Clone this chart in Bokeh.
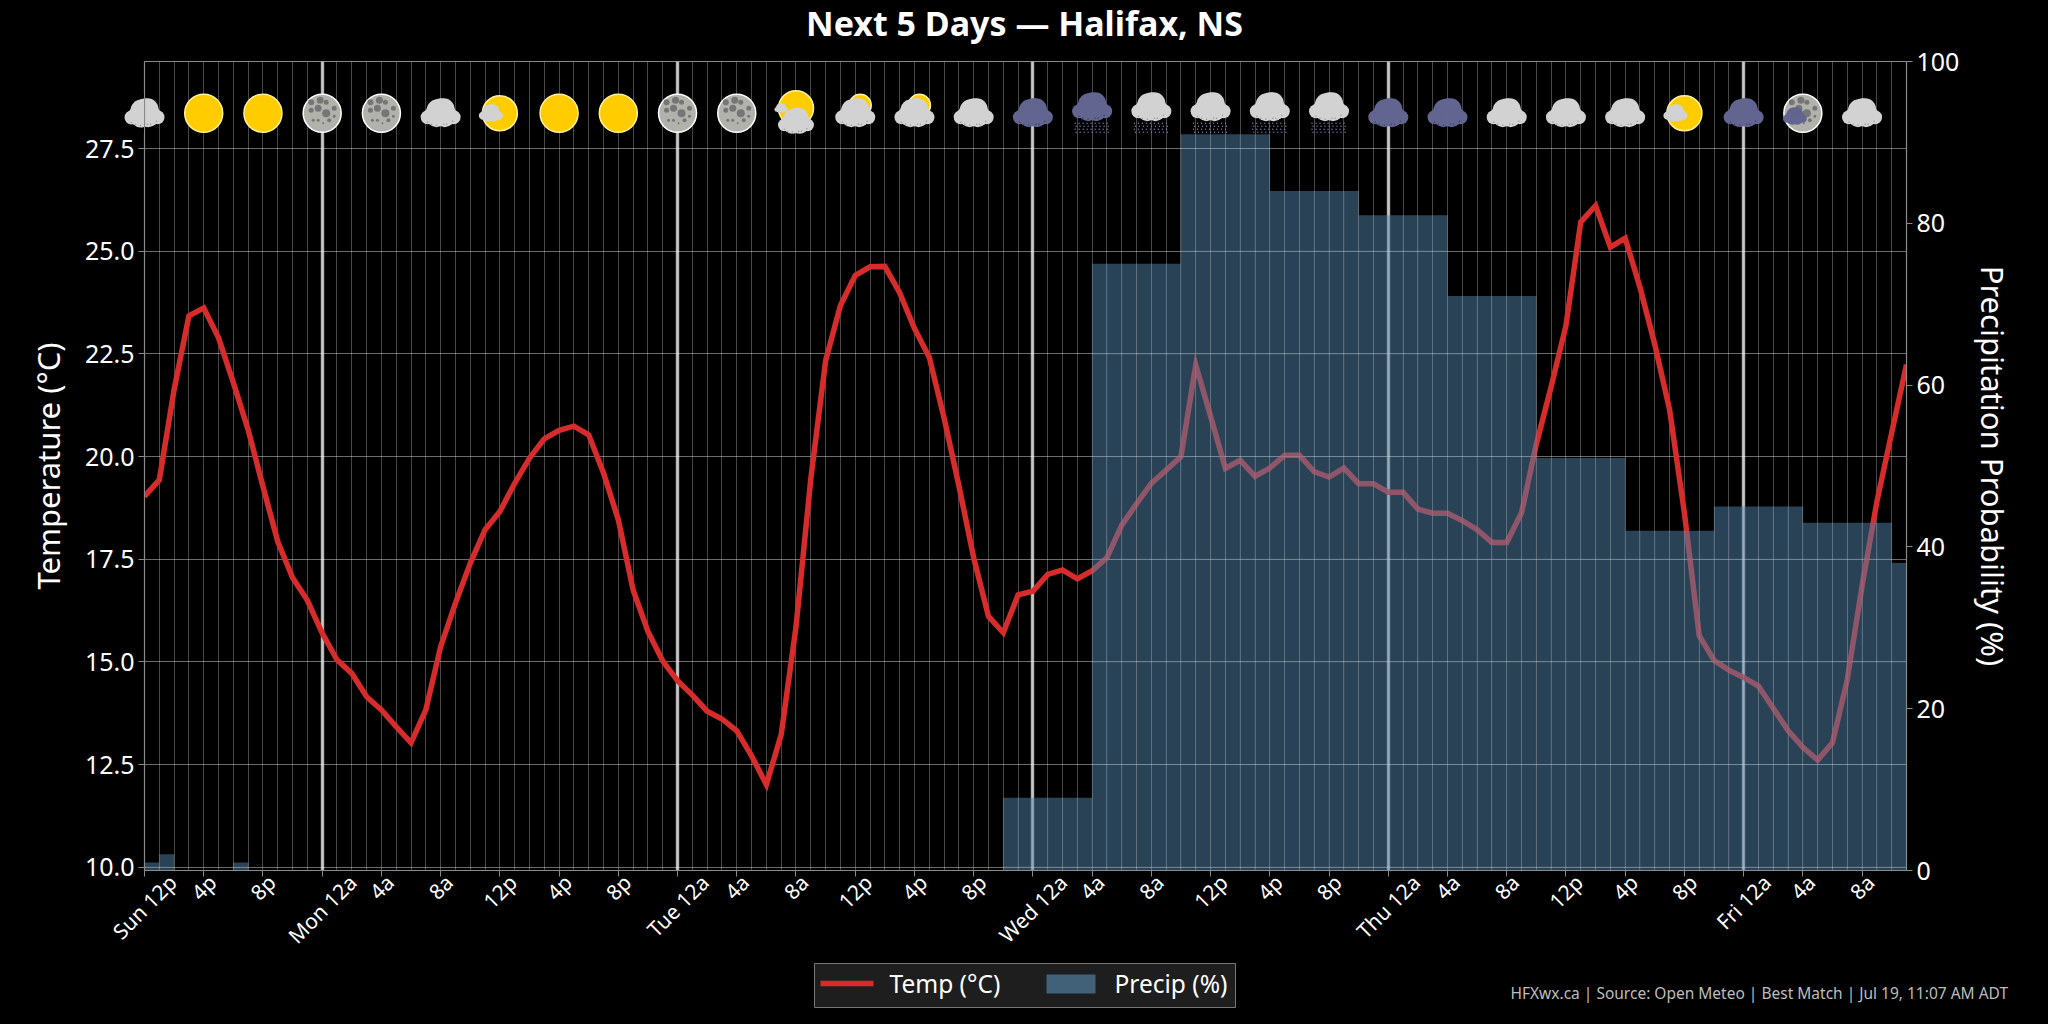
from math import pi, cos
from bokeh.plotting import figure
from bokeh.layouts import column
from bokeh.models import (ColumnDataSource, FixedTicker, Grid, LinearAxis, Range1d, Title)
from bokeh.core.properties import value
from bokeh.embed import file_html
from bokeh.resources import INLINE

temps = [19.03,19.43,21.63,23.43,23.62,22.89,21.8,20.65,19.27,17.93,17.05,16.5,15.7,15.05,14.72,14.15,13.83,13.42,13.03,13.83,
 15.37,16.43,17.4,18.22,18.66,19.35,19.96,20.43,20.64,20.74,20.53,19.6,18.46,16.75,15.74,15.02,14.54,14.19,13.8,13.61,
 13.32,12.71,12.01,13.23,15.85,19.46,22.33,23.68,24.41,24.62,24.63,23.99,23.12,22.42,20.94,19.29,17.54,16.11,15.71,16.63,
 16.72,17.13,17.24,17.02,17.22,17.54,18.33,18.85,19.35,19.67,20.0,22.23,20.98,19.71,19.91,19.52,19.72,20.03,20.03,19.63,
 19.5,19.72,19.34,19.34,19.13,19.13,18.72,18.62,18.62,18.44,18.22,17.91,17.91,18.63,20.3,21.7,23.19,25.71,26.11,25.1,
 25.32,24.12,22.73,21.14,18.63,15.64,15.04,14.8,14.62,14.41,13.87,13.33,12.92,12.61,13.03,14.57,16.85,18.9,20.58,22.24]
precip = [1,2,0,0,0,0,1,0,0,0,0,0,0,0,0,0,0,0,0,0,0,0,0,0,0,0,0,0,0,0,
 0,0,0,0,0,0,0,0,0,0,0,0,0,0,0,0,0,0,0,0,0,0,0,0,0,0,0,0,
 9,9,9,9,9,9,75,75,75,75,75,75,91,91,91,91,91,91,84,84,84,84,84,84,81,81,81,81,81,81,
 71,71,71,71,71,71,51,51,51,51,51,51,42,42,42,42,42,42,45,45,45,45,45,45,43,43,43,43,43,43,38,38]
hours = list(range(len(temps)))
tick_hours = [0,4,8,12,16,20,24,28,32,36,40,44,48,52,56,60,64,68,72,76,80,84,88,92,96,100,104,108,112,116]
tick_labels = ["Sun 12p","4p","8p","Mon 12a","4a","8a","12p","4p","8p","Tue 12a","4a","8a","12p","4p","8p",
 "Wed 12a","4a","8a","12p","4p","8p","Thu 12a","4a","8a","12p","4p","8p","Fri 12a","4a","8a"]
day_hours = [12,36,60,84,108]
temp_ticks = [10,12.5,15,17.5,20,22.5,25,27.5]
precip_ticks = [0,20,40,60,80,100]
icon_kinds = ["cloud","sun","sun","moon","moon","cloud","sun_small_cloud","sun","sun","moon","moon","sun_big_cloud",
 "cloud_sun","cloud_sun","cloud","dark","dark_rain","rain","rain","rain","rain","dark","dark","cloud","cloud","cloud",
 "sun_small_cloud","dark","moon_dark","cloud"]
icon_y = 28.36

PXH = 14.808   # px per hour
PXD = 41.06    # px per degree
TICK_FONT = 21
CHAR_EM = {"0":.572,"1":.572,"2":.572,"4":.572,"8":.572,"p":.615,"a":.561," ":.26,"S":.549,"u":.618,"n":.618,"M":.907,
           "o":.605,"T":.556,"e":.564,"W":.928,"d":.615,"h":.618,"F":.519,"r":.413,"i":.258}

p = figure(width=2048, height=1024, output_backend="svg", toolbar_location=None,
           x_range=Range1d(0, 119), y_range=Range1d(9.92, 29.62),
           min_border_left=144, min_border_right=142, min_border_top=61, min_border_bottom=154,
           background_fill_color="black", border_fill_color="black", outline_line_color="#8a8a8a",
           x_axis_location=None, y_axis_location=None, frame_align=False)
p.extra_y_ranges = {"precip": Range1d(0, 100)}
p.grid.visible = False

AXC = "#8a8a8a"
def style(ax, size="25px"):
    ax.axis_line_color = AXC
    ax.axis_line_width = 1.2
    ax.major_tick_line_color = AXC
    ax.major_tick_out = 6
    ax.major_tick_in = 0
    ax.minor_tick_line_color = None
    ax.major_label_text_color = "white"
    ax.major_label_text_font = "Noto Sans"
    ax.major_label_text_font_size = size
    ax.axis_label_text_color = "white"
    ax.axis_label_text_font = "Noto Sans"
    ax.axis_label_text_font_style = "normal"
    ax.axis_label_text_font_size = "31px"

left = LinearAxis(ticker=FixedTicker(ticks=temp_ticks), axis_label="Temperature (°C)",
                  axis_label_standoff=13, major_label_standoff=4)
left.major_label_overrides = {t: f"{t:.1f}" for t in temp_ticks}
style(left)
p.add_layout(left, "left")

right = LinearAxis(y_range_name="precip", ticker=FixedTicker(ticks=precip_ticks),
                   axis_label="Precipitation Probability (%)", axis_label_standoff=10, major_label_standoff=4)
style(right)
p.add_layout(right, "right")

# tick marks on one axis; the slanted labels on a second one whose ticks are moved so each label centres on its hour
marks = LinearAxis(ticker=FixedTicker(ticks=tick_hours), major_label_standoff=0)
style(marks, "1px")
marks.major_label_overrides = {h: "" for h in tick_hours}
p.add_layout(marks, "below")

shift = [sum(CHAR_EM[c] for c in t) * TICK_FONT * cos(pi / 4) / 2 / PXH for t in tick_labels]
label_pos = [h + s for h, s in zip(tick_hours, shift)]
bottom = LinearAxis(ticker=FixedTicker(ticks=label_pos), major_label_orientation=pi/4, major_label_standoff=2)
bottom.major_label_overrides = dict(zip(label_pos, tick_labels))
style(bottom, f"{TICK_FONT}px")
bottom.axis_line_color = None
bottom.major_tick_line_color = None
bottom.major_tick_out = 0
p.add_layout(bottom, "below")

hgrid = Grid(dimension=1, ticker=FixedTicker(ticks=temp_ticks), grid_line_color="#ffffff", grid_line_alpha=0.42, grid_line_width=1)
vgrid = Grid(dimension=0, ticker=FixedTicker(ticks=hours), grid_line_color="#ffffff", grid_line_alpha=0.28, grid_line_width=1)
dgrid = Grid(dimension=0, ticker=FixedTicker(ticks=day_hours), grid_line_color="#ffffff", grid_line_alpha=0.7, grid_line_width=3.4)
for g in (hgrid, vgrid, dgrid):
    p.add_layout(g)

TEMP_COLOR = "#d62c2c"
BAR_COLOR = "#507da0"
temp_line = p.line(hours, temps, line_color=TEMP_COLOR, line_width=5.5, line_join="miter")

bars = p.vbar(x=[h + 0.5 for h in hours], top=precip, width=1.0, bottom=0, y_range_name="precip",
              fill_color=BAR_COLOR, fill_alpha=0.53, line_color=None)

ov_x0, ov_x1, ov_y0, ov_y1 = [], [], [], []
for h in hours:
    top_v = max(precip[h], precip[h - 1] if h else 0)
    if top_v:
        ov_x0.append(h); ov_x1.append(h); ov_y0.append(0); ov_y1.append(top_v)
p.segment(ov_x0, ov_y0, ov_x1, ov_y1, y_range_name="precip", line_color="white", line_alpha=0.13, line_width=1)
hx0, hx1, hy = [], [], []
for t in temp_ticks:
    yp = (t - 9.92) / (29.62 - 9.92) * 100
    for h in hours:
        if precip[h] >= yp:
            hx0.append(h); hx1.append(min(h + 1, 119)); hy.append(t)
p.segment(hx0, hy, hx1, hy, line_color="white", line_alpha=0.16, line_width=1)

ix, iy, isize, ifill, iline, iw = [], [], [], [], [], []
def stamp(h, dx, dy, d, fill, line=None, w=0.0):
    ix.append(h + dx / PXH); iy.append(icon_y - dy / PXD); isize.append(d)
    ifill.append(fill); iline.append(line or fill); iw.append(w)

LIGHT, DARK = "#d2d2d2", "#62658f"
CLOUD = [(0,-5,20),(-3,-3,22),(3,-4,22),(-7,1,18),(7,1,18),(-4,4,20),(4,4,20),(-13,4,14),(13,4,14)]
SPECK = [(-13,9),(-9,11),(-4,12),(3,11),(6,11),(12,8)]
def cloud(h, dx=0, dy=0, s=1.0, c=LIGHT, specks=True):
    for a, b, d in CLOUD:
        stamp(h, dx + a * s, dy + b * s, d * s, c)
    if specks:
        for a, b in SPECK:
            stamp(h, dx + a * s, dy + b * s, 1.5, "#9a9a9a" if c == LIGHT else "#3c3e62")
def sun(h, dx=0, dy=0, d=38):
    stamp(h, dx, dy, d, "#ffcc00", "#fff2a0", 1.5)
CRATERS = [(-11,-11,6),(-2,-13,7),(4,-11,5),(-4,-5,7),(-11,-3,5),(4,0,8),(12,-5,5),(-4,7,3),(7,7,4),(-9,7,3),(12,3,3),(1,10,2)]
def moon(h, d=38):
    stamp(h, 0, 0, d, "#b2b2ac", "white", 1.5)
    for a, b, c in CRATERS:
        stamp(h, a * d / 38, b * d / 38, c * d / 38, "#767676")
def rain(h):
    for col in range(-17, 19, 4):
        for row in (10, 13, 16, 19):
            stamp(h, col + (row % 2), row, 1.3, "#8285bb")

for h, kind in zip(tick_hours, icon_kinds):
    if kind == "cloud":
        cloud(h)
    elif kind == "sun":
        sun(h)
    elif kind == "moon":
        moon(h)
    elif kind == "dark":
        cloud(h, c=DARK)
    elif kind == "dark_rain":
        cloud(h, dy=-6, c=DARK); rain(h)
    elif kind == "rain":
        cloud(h, dy=-6); rain(h)
    elif kind == "sun_small_cloud":
        sun(h, d=35)
        cloud(h, dx=-9, s=0.6, specks=False)
    elif kind == "sun_big_cloud":
        sun(h, dy=-5, d=35)
        cloud(h, dx=-15, dy=-5, s=0.33, specks=False)
        cloud(h, dx=0, dy=8, s=0.9)
    elif kind == "cloud_sun":
        sun(h, dx=5, dy=-8, d=22)
        cloud(h)
    elif kind == "moon_dark":
        moon(h)
        cloud(h, dx=-8, dy=3, s=0.6, c=DARK, specks=False)

icons = dict(x=ix, y=iy, size=isize, fill=ifill, line=iline, w=iw)
p.scatter("x", "y", size="size", source=ColumnDataSource(icons), marker="circle", fill_color="fill", line_color="line", line_width="w")

footer = Title(text="HFXwx.ca | Source: Open Meteo | Best Match | Jul 19, 11:07 AM ADT", text_color="#bdbdbd",
               text_font="Noto Sans", text_font_size="15.5px", text_font_style="normal", align="left", offset=1366, standoff=34)
p.add_layout(footer, "below")

# title in its own small figure, so it can sit as high as in the reference without moving the frame
head = figure(width=600, height=60, output_backend="svg", toolbar_location=None,
              x_range=Range1d(0, 1), y_range=Range1d(0, 1), min_border=0, frame_align=False,
              background_fill_color="black", border_fill_color="black", outline_line_color=None,
              x_axis_location=None, y_axis_location=None)
head.grid.visible = False
head.title = Title(text="Next 5 Days — Halifax, NS", text_color="white", text_font="Noto Sans", text_font_size="34px",
                   text_font_style="bold", align="center", standoff=0)
head.styles = {"position": "absolute", "left": "724px", "top": "-3px", "z-index": "100"}

# the first icon hangs past the frame's left edge: a small figure on top shows that outer part
edge = figure(width=21, height=40, output_backend="svg", toolbar_location=None,
              x_range=Range1d(-21 / PXH, 0), y_range=Range1d(icon_y - 20 / PXD, icon_y + 20 / PXD),
              min_border=0, frame_align=False, background_fill_color="black", border_fill_color="black", outline_line_color=None,
              x_axis_location=None, y_axis_location=None)
edge.grid.visible = False
edge.scatter("x", "y", size="size", source=ColumnDataSource(icons), marker="circle", fill_color="fill", line_color="line", line_width="w")
edge.styles = {"position": "absolute", "left": "123px", "top": "93px", "z-index": "100"}

# the key sits below the axis, outside the main frame, so it has a small figure of its own, in px units
key = figure(width=422, height=45, output_backend="svg", toolbar_location=None,
             x_range=Range1d(0, 422), y_range=Range1d(0, 45), min_border=0, frame_align=False,
             background_fill_color="#1e1e1e", border_fill_color="#1e1e1e", outline_line_color="#777777",
             x_axis_location=None, y_axis_location=None)
key.grid.visible = False
key.line([6, 59], [25, 25], line_color=TEMP_COLOR, line_width=5.5)
key.quad(left=[232], right=[281], bottom=[15], top=[34], fill_color=BAR_COLOR, fill_alpha=0.7, line_color=None)
key.text([75, 300], [25, 25], text=["Temp (°C)", "Precip (%)"], text_color="white", text_font=value("Noto Sans"),
         text_font_size="24.5px", text_baseline="middle", text_align="left")
key.styles = {"position": "absolute", "left": "814px", "top": "963px", "z-index": "100"}

root = column(p, head, edge, key, spacing=0)
html = file_html(root, INLINE).replace("<head>", "<head><style>html,body{margin:0;background:#000;overflow:hidden}</style>", 1)
open("out.html", "w").write(html)
